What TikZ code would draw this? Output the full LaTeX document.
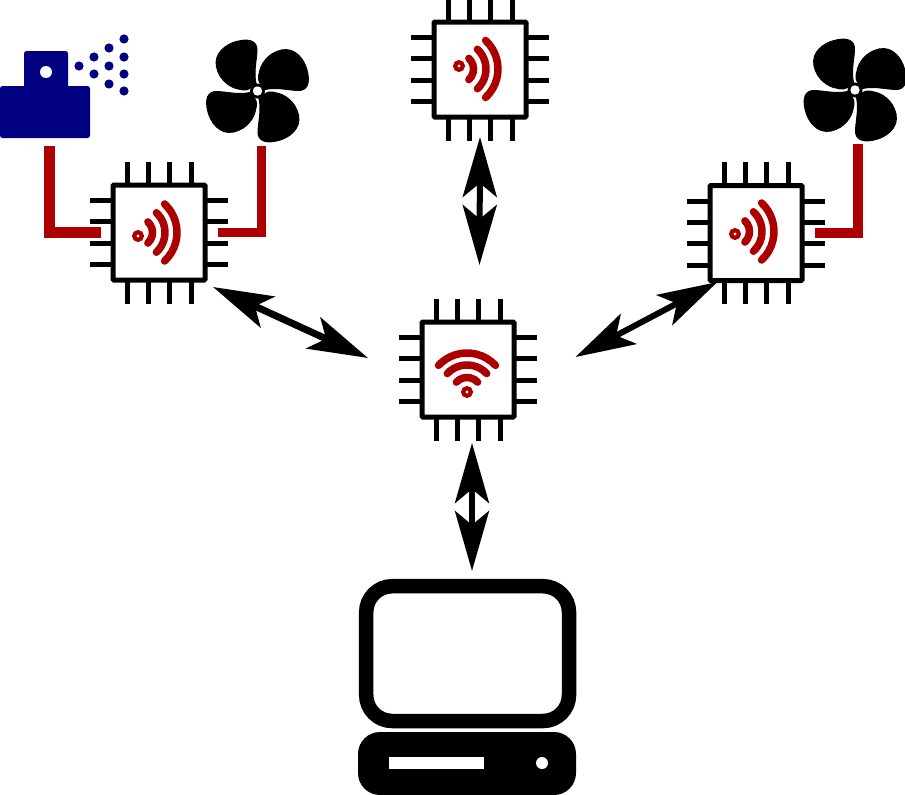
\documentclass[tikz,border=0pt]{standalone}
\usetikzlibrary{arrows.meta}
\definecolor{sprayblue}{RGB}{0,0,128}
\definecolor{wavered}{RGB}{172,0,0}
\tikzset{
	chip/.style={draw,line width=5pt,fill=white,rounded corners=1pt,inner sep=0pt,outer sep=0pt,minimum width=92pt,minimum height=95pt},
	pin/.style={line width=5pt},
	wave/.style={draw=wavered,line width=7.5pt,line cap=round},
	wire/.style={draw=wavered,line width=9.7pt},
	link/.style={line width=6pt,{Stealth[length=60pt,width=34pt,inset=14pt]}-{Stealth[length=60pt,width=34pt,inset=14pt]}},
	blades/.pic={
		\foreach \a in {0,90,180,270} {
			\filldraw[rotate=\a,line width=1pt,line join=round] (4,-6) .. controls (1,-9) and (0,-13) .. (2,-19) .. controls (3,-26) and (10,-38) .. (24,-41) .. controls (38,-44) and (47,-31) .. (49.5,-21) .. controls (53,-8) and (50,0) .. (40,-.5) .. controls (32,-1) and (25,-2.5) .. (17,-2.5) .. controls (13,-2.5) and (9,-2) .. (6,-1) -- cycle;
		}
		\fill (0,0) circle (7.5);
		\fill[white] (0,0) circle (4.7);
	},
}

\begin{document}
\begin{tikzpicture}[x=1pt,y=-1pt]
	\useasboundingbox (0,0) rectangle (905,795);

	\foreach \name/\x/\y in {chipA/159/232.5,chipB/480/69.5,chipC/756/233,hub/468/369.5} {
		\node[chip] (\name) at (\x,\y) {};
		\foreach \p in {-32,-10.7,10.7,32} {
			\draw[pin] ({\x+\p},{\y-48}) -- ({\x+\p},{\y-71});
			\draw[pin] ({\x+\p},{\y+48}) -- ({\x+\p},{\y+71});
			\draw[pin] ({\x-46},{\y+\p}) -- ({\x-69},{\y+\p});
			\draw[pin] ({\x+46},{\y+\p}) -- ({\x+69},{\y+\p});
		}
	}
	% wireless marks
	\foreach \x/\y/\dy/\rot in {138/232.5/3.5/0,459/69/-3/0,735/231.5/2.5/0,467/392/0/90} {
		\begin{scope}[shift={(\x,\y)},rotate=\rot]
			\draw[wavered,line width=4.2pt] (0,\dy) circle (3.8);
			\foreach \r in {14.5,27,39} {
				\draw[wave] (-47:\r) arc[start angle=-47,end angle=47,radius=\r];
			}
		\end{scope}
	}

	% sprayer
	\fill[sprayblue,rounded corners=2.5pt] (0,86) rectangle (90,138);
	\fill[sprayblue,rounded corners=2.5pt] (24,51) rectangle (68,90);
	\fill[white] (46,72) circle (6);
	\foreach \x/\y in {79/66,94/57,94/74,109/48,109/66,109/84,124/39,124/57,124/74,124/91} {
		\fill[sprayblue] (\x,\y) circle (4.6);
	}

	\pic at (257.5,91) {blades};
	\pic at (855,90) {blades};

	\coordinate (sprayport) at (49.5,146);
	\coordinate (fanportA) at (261.5,146);
	\coordinate (fanportC) at (858,144);
	\draw[wire,line width=11pt,shorten >=12pt] (sprayport) |- (chipA.west);
	\draw[wire,shorten >=13pt] (fanportA) |- (chipA.east);
	\draw[wire,shorten >=13pt] (fanportC) |- (chipC.east);

	\coordinate (linkA) at (213,287);
	\coordinate (hubA) at (368,358);
	\coordinate (linkB) at (480,137);
	\coordinate (hubB) at (479.5,265);
	\coordinate (linkC) at (717.5,282);
	\coordinate (hubC) at (575.5,357);
	\coordinate (hubD) at (472,443);
	\coordinate (deskD) at (472,571);
	\draw[link,line width=7pt] (linkA) -- (hubA);
	\draw[link] (linkB) -- (hubB);
	\draw[link] (linkC) -- (hubC);
	\draw[link] (hubD) -- (deskD);

	% computer
	\draw[line width=14.5pt,rounded corners=26pt] (366.2,586.2) rectangle (569,721);
	\fill[rounded corners=22pt] (358,732) rectangle (576,795);
	\fill[white] (389,757) rectangle (484,769);
	\fill[white] (542,763) circle (6);
\end{tikzpicture}
\end{document}
